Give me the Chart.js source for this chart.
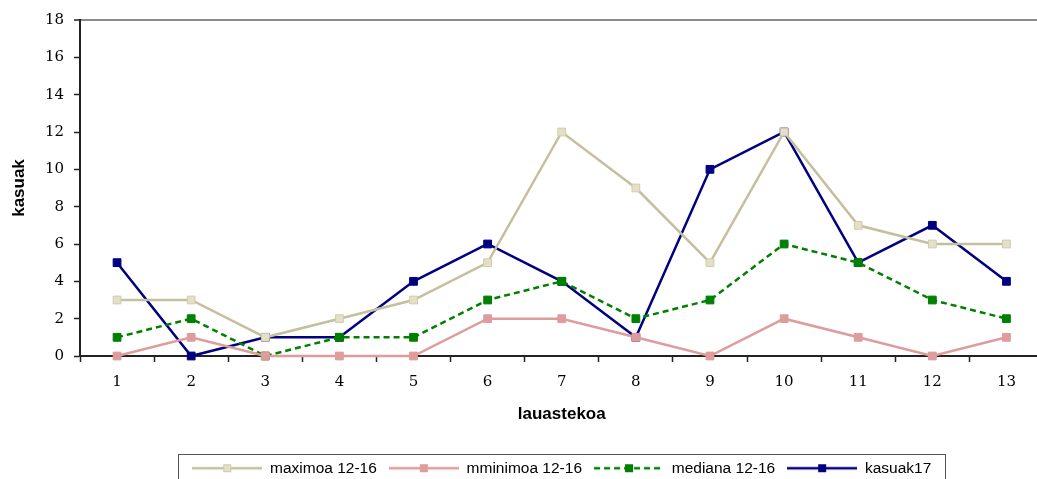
<!DOCTYPE html>
<html>
<head>
<meta charset="utf-8">
<script src="https://cdn.jsdelivr.net/npm/chart.js@4"></script>
<style>
    html, body { margin: 0; padding: 0; background: #fff; overflow: hidden; }
    #wrap { width: 1037px; height: 479px; overflow: hidden; }
</style>
</head>
<body>
<div id="wrap"><canvas id="chart" width="1050" height="486"></canvas></div>
<script>
// weeks on the x axis
const weeks = ["1", "2", "3", "4", "5", "6", "7", "8", "9", "10", "11", "12", "13"];
const yTicks = [0, 2, 4, 6, 8, 10, 12, 14, 16, 18];

const maximoa = [3, 3, 1, 2, 3, 5, 12, 9, 5, 12, 7, 6, 6];
const minimoa = [0, 1, 0, 0, 0, 2, 2, 1, 0, 2, 1, 0, 1];
const mediana = [1, 2, 0, 1, 1, 3, 4, 2, 3, 6, 5, 3, 2];
const kasuak17 = [5, 0, 1, 1, 4, 6, 4, 1, 10, 12, 5, 7, 4];

// little line + square marker used as legend symbol
function legendSymbol(line, fill, edge, dash) {
    const c = document.createElement("canvas");
    c.width = 70;
    c.height = 10;
    const g = c.getContext("2d");
    g.strokeStyle = line;
    g.lineWidth = 2.5;
    if (dash) g.setLineDash(dash);
    g.beginPath();
    g.moveTo(0, 5);
    g.lineTo(70, 5);
    g.stroke();
    g.setLineDash([]);
    g.fillStyle = fill;
    g.fillRect(31, 1, 8, 8);
    g.strokeStyle = edge;
    g.lineWidth = 1;
    g.strokeRect(31.5, 1.5, 7, 7);
    return c;
}

function series(label, data, line, fill, edge, dash) {
    return {
        label: label,
        data: data,
        borderColor: line,
        borderWidth: 2.5,
        borderDash: dash || [],
        pointStyle: "rect",
        pointRadius: 5.5,
        pointHoverRadius: 5.5,
        pointBackgroundColor: fill,
        pointBorderColor: edge,
        pointBorderWidth: 1,
        tension: 0,
        fill: false,
        clip: false,
        legendSymbol: legendSymbol(line, fill, edge, dash)
    };
}

// box drawn around the legend, legend centered under the plot area
const legendBox = {
    id: "legendBox",
    afterLayout(chart) {
        chart.legend.left = chart.chartArea.left;
        chart.legend.right = chart.chartArea.right;
    },
    afterDraw(chart) {
        const boxes = chart.legend.legendHitBoxes;
        if (!boxes || !boxes.length) return;
        const first = boxes[0];
        const last = boxes[boxes.length - 1];
        const ctx = chart.ctx;
        ctx.save();
        ctx.strokeStyle = "#555";
        ctx.lineWidth = 1;
        const x = Math.round(first.left - 14) + 0.5;
        const y = Math.round(first.top - 7) + 0.5;
        const w = Math.round(last.left + last.width + 14 - x);
        ctx.strokeRect(x, y, w, chart.height + 10 - y);
        ctx.restore();
    }
};

new Chart(document.getElementById("chart"), {
    type: "line",
    data: {
        labels: weeks,
        datasets: [
            series("maximoa 12-16", maximoa, "#c6bf9c", "#e4e0c8", "#d2cbab"),
            series("mminimoa 12-16", minimoa, "#df9c9c", "#df9c9c", "#df9c9c"),
            series("mediana 12-16", mediana, "#008000", "#008000", "#008000", [6, 4]),
            series("kasuak17", kasuak17, "#000080", "#000080", "#000080")
        ]
    },
    options: {
        responsive: false,
        animation: false,
        events: [],
        layout: { padding: { top: 20, right: 1, bottom: 0, left: 0 } },
        plugins: {
            tooltip: { enabled: false },
            legend: {
                position: "bottom",
                labels: {
                    usePointStyle: true,
                    pointStyleWidth: 70,
                    padding: 12,
                    color: "#000",
                    font: { family: "Liberation Sans, Arial", size: 15.5 },
                    generateLabels(chart) {
                        return chart.data.datasets.map((ds, i) => ({
                            text: ds.label,
                            pointStyle: ds.legendSymbol,
                            datasetIndex: i,
                            fontColor: "#000",
                            lineWidth: 0,
                            hidden: false
                        }));
                    }
                }
            }
        },
        scales: {
            x: {
                offset: true,
                afterFit(scale) { scale.height = 92.5; },
                border: { color: "#222", width: 2 },
                grid: {
                    offset: true,
                    drawOnChartArea: false,
                    tickLength: 6,
                    tickColor: "#222",
                    tickWidth: 1.5
                },
                ticks: {
                    padding: 11,
                    color: "#000",
                    maxRotation: 0,
                    font: { family: "DejaVu Serif", size: 15 }
                },
                title: {
                    display: true,
                    text: "lauastekoa",
                    color: "#000",
                    padding: { top: 6, bottom: 24 },
                    font: { family: "Liberation Sans, Arial", size: 17, weight: "bold" }
                }
            },
            y: {
                min: 0,
                max: 18,
                afterFit(scale) { scale.width = 80; },
                afterBuildTicks(scale) { scale.ticks = yTicks.map(v => ({ value: v })); },
                border: { color: "#222", width: 2 },
                grid: {
                    color: ctx => ctx.tick && ctx.tick.value === 18 ? "#8c8c8c" : "rgba(0,0,0,0)",
                    lineWidth: ctx => ctx.tick && ctx.tick.value === 18 ? 2 : 1,
                    tickLength: 6,
                    tickColor: "#222",
                    tickWidth: 1.5
                },
                ticks: {
                    padding: 10,
                    color: "#000",
                    font: { family: "DejaVu Serif", size: 15 }
                },
                title: {
                    display: true,
                    text: "kasuak",
                    color: "#000",
                    padding: { top: 9 },
                    font: { family: "Liberation Sans, Arial", size: 17, weight: "bold" }
                }
            }
        }
    },
    plugins: [legendBox]
});
</script>
</body>
</html>
